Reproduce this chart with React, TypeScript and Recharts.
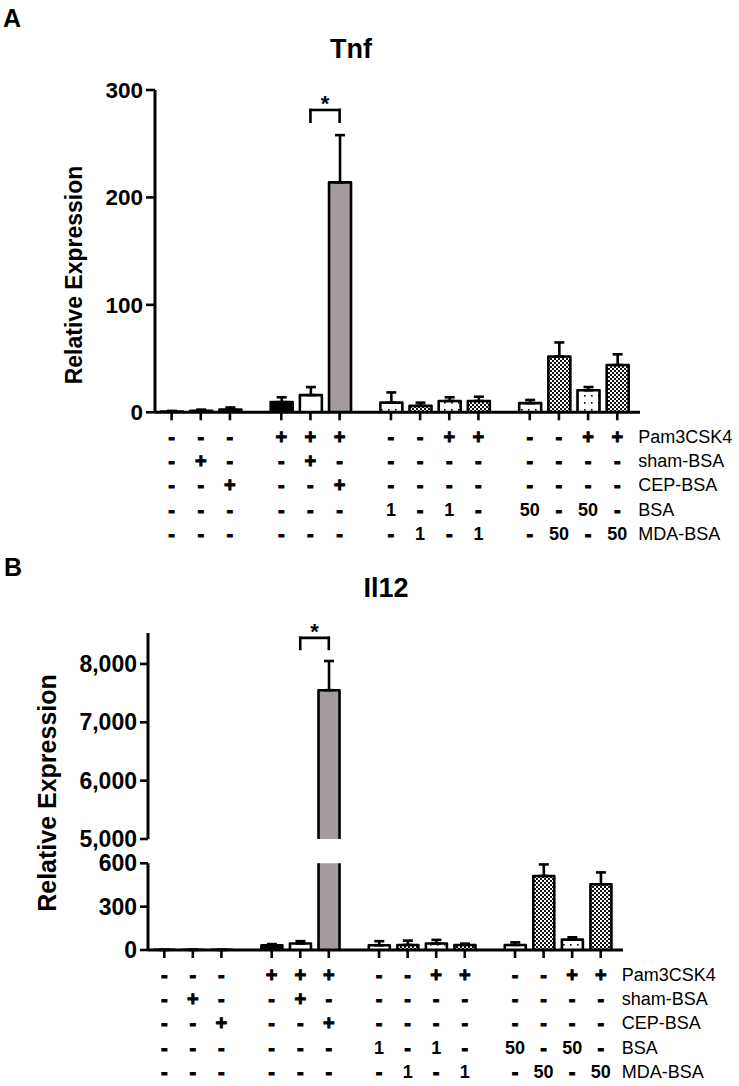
import React from "react";
import { BarChart, Bar, XAxis, YAxis, ErrorBar, ReferenceLine } from "recharts";

// ─── Data ─────────────────────────────────────────────────────────────────────

// group of each bar along the x axis (0: controls, 1: Pam3CSK4, 2: 1 µg, 3: 50 µg)
const GROUP = [0, 0, 0, 1, 1, 1, 2, 2, 2, 2, 3, 3, 3, 3];

const PAM3CSK4 = ["-", "-", "-", "+", "+", "+", "-", "-", "+", "+", "-", "-", "+", "+"];
const SHAM_BSA = ["-", "+", "-", "-", "+", "-", "-", "-", "-", "-", "-", "-", "-", "-"];
const CEP_BSA = ["-", "-", "+", "-", "-", "+", "-", "-", "-", "-", "-", "-", "-", "-"];
const BSA = ["-", "-", "-", "-", "-", "-", "1", "-", "1", "-", "50", "-", "50", "-"];
const MDA_BSA = ["-", "-", "-", "-", "-", "-", "-", "1", "-", "1", "-", "50", "-", "50"];
const ROW_LABELS = ["Pam3CSK4", "sham-BSA", "CEP-BSA", "BSA", "MDA-BSA"];

const TNF_MEAN = [0.8, 1.5, 2.5, 9.5, 16, 214, 9, 6, 10.5, 10.5, 8.5, 52, 20.5, 44];
const TNF_SEM = [0.5, 1, 2, 4.5, 7.5, 44, 9.5, 3, 3.5, 4, 3, 13, 3, 10];

const IL12_MEAN = [1, 1, 1, 32, 45, 7550, 33, 35, 45, 35, 35, 512, 72, 455];
const IL12_SEM = [0, 0, 0, 9, 16, 500, 28, 30, 25, 9, 18, 80, 16, 82];

const TNF_TICKS = [0, 100, 200, 300];
const IL12_TOP_TICKS = [5000, 6000, 7000, 8000];
const IL12_LOW_TICKS = [0, 300, 600];
const IL12_BREAK = 5000;

// ─── Layout helpers ───────────────────────────────────────────────────────────

const FONT = "'Liberation Sans', Arial, Helvetica, sans-serif";
const GROUP_GAP = 0.76;
const POS = GROUP.map((g, i) => i + g * GROUP_GAP);
const X_DOMAIN: [number, number] = [-0.57, 16.06];

const FILLS = [
  "#000", "#000", "#000", "#000", "#fff", "#a39b9c",
  "url(#dots)", "url(#checker)", "url(#dots)", "url(#checker)",
  "url(#dots)", "url(#checker)", "url(#dots)", "url(#checker)",
];

const TABLE = [PAM3CSK4, SHAM_BSA, CEP_BSA, BSA, MDA_BSA];
const ROW_DY = [16.5, 40.7, 65, 89.5, 113.5];

const tnfData = TNF_MEAN.map((m, i) => ({ idx: i, pos: POS[i], value: m, err: [0, TNF_SEM[i]] }));
const il12Data = IL12_MEAN.map((m, i) => ({ idx: i, pos: POS[i], value: m, err: [0, IL12_SEM[i]] }));
const il12TopData = IL12_MEAN.map((m, i) => ({
  idx: i,
  pos: POS[i],
  value: m > IL12_BREAK ? m : null,
  err: m > IL12_BREAK ? [0, IL12_SEM[i]] : undefined,
}));

const AX = { stroke: "#000", strokeWidth: 3 };
const TL = { stroke: "#000", strokeWidth: 2.6 };

// ─── Pieces ───────────────────────────────────────────────────────────────────

function BarShape(props: any) {
  const { x, y, width, height, payload } = props;
  if (!payload || payload.value == null || !isFinite(height) || !isFinite(y)) return null;
  const top = Math.min(y, y + height);
  const bottom = top + Math.abs(height);
  return (
    <g>
      <rect x={x} y={top} width={width} height={bottom - top} fill={FILLS[payload.idx]} />
      <path
        d={`M${x},${bottom}V${top}H${x + width}V${bottom}`}
        fill="none"
        stroke="#000"
        strokeWidth={2.6}
        strokeLinejoin="round"
      />
    </g>
  );
}

function TableTick(props: any) {
  const { x, y, payload } = props;
  let i = props.index;
  if (i == null || POS[i] !== payload?.value) i = POS.indexOf(payload?.value);
  if (i < 0) return null;
  return (
    <g>
      {TABLE.map((row, r) => {
        const s = row[i];
        const sign = s === "+" || s === "-";
        return (
          <text
            key={r}
            x={x}
            y={y + ROW_DY[r]}
            textAnchor="middle"
            dominantBaseline="central"
            fontFamily={FONT}
            fontWeight={700}
            fontSize={sign ? 20 : 18}
            fill="#000"
            stroke={sign ? "#000" : "none"}
            strokeWidth={sign ? 0.9 : 0}
          >
            {s}
          </text>
        );
      })}
      {i === POS.length - 1 &&
        ROW_LABELS.map((lab, r) => (
          <text
            key={lab}
            x={x + 21}
            y={y + ROW_DY[r]}
            dominantBaseline="central"
            fontFamily={FONT}
            fontSize={18}
            fill="#000"
          >
            {lab}
          </text>
        ))}
    </g>
  );
}

const starLabel = (p: any) => {
  const vb = p.viewBox || {};
  return (
    <text
      x={(vb.x || 0) + (vb.width || 0) / 2}
      y={(vb.y || 0) + 1}
      textAnchor="middle"
      fontFamily={FONT}
      fontWeight={700}
      fontSize={22}
      fill="#000"
    >
      *
    </text>
  );
};

const yTick = (size: number) => ({ fill: "#000", fontSize: size, fontWeight: 700, fontFamily: FONT });

// ─── Main ─────────────────────────────────────────────────────────────────────

export default function App() {
  const brA = { a: POS[4], b: POS[5], top: 281.4, bottom: 270.5 };
  const brB = { a: POS[4], b: POS[5], top: 8446, bottom: 8257 };
  const bracketProps = { stroke: "#000", strokeWidth: 2.6, strokeLinecap: "square" as const };

  return (
    <div style={{ position: "absolute", left: 0, top: 0, width: 739, height: 1086, background: "#fff" }}>
      <svg width={739} height={1086} style={{ position: "absolute", left: 0, top: 0 }}>
        <defs>
          <pattern id="checker" width={4} height={4} patternUnits="userSpaceOnUse">
            <rect width={4} height={4} fill="#fff" />
            <rect width={2} height={2} fill="#111" />
            <rect x={2} y={2} width={2} height={2} fill="#111" />
          </pattern>
          <pattern id="dots" width={7} height={7} patternUnits="userSpaceOnUse">
            <rect width={7} height={7} fill="#fff" />
            <rect x={3} y={3} width={1.6} height={1.6} fill="#000" />
          </pattern>
        </defs>
        <g fontFamily={FONT} fontWeight={700} fill="#000">
          <text x={3} y={27} fontSize={25}>A</text>
          <text x={4} y={576} fontSize={25}>B</text>
          <text x={351} y={58} fontSize={27} textAnchor="middle">Tnf</text>
          <text x={386} y={597} fontSize={27} textAnchor="middle">Il12</text>
          <text transform="translate(74,275) rotate(-90)" fontSize={23} textAnchor="middle" dominantBaseline="central">
            Relative Expression
          </text>
          <text transform="translate(47,793) rotate(-90)" fontSize={25} textAnchor="middle" dominantBaseline="central">
            Relative Expression
          </text>
        </g>
      </svg>

      {/* Panel A: Tnf */}
      <div style={{ position: "absolute", left: 0, top: 0 }}>
        <BarChart width={739} height={560} data={tnfData} margin={{ top: 90, right: 99, bottom: 117.7, left: 85 }}>
          <XAxis
            type="number"
            dataKey="pos"
            domain={X_DOMAIN}
            ticks={POS}
            interval={0}
            height={30}
            tickSize={8}
            tickMargin={0}
            axisLine={AX}
            tickLine={TL}
            tick={(p: any) => <TableTick {...p} />}
          />
          <YAxis
            type="number"
            domain={[0, 300]}
            ticks={TNF_TICKS}
            interval={0}
            width={70}
            tickSize={9}
            tickMargin={3}
            axisLine={AX}
            tickLine={TL}
            tick={yTick(22.5)}
          />
          <Bar dataKey="value" barSize={22} shape={(p: any) => <BarShape {...p} />} isAnimationActive={false}>
            <ErrorBar dataKey="err" width={5} strokeWidth={2.6} stroke="#000" direction="y" isAnimationActive={false} />
          </Bar>
          <ReferenceLine
            segment={[{ x: brA.a, y: brA.top }, { x: brA.b, y: brA.top }]}
            {...bracketProps}
            label={starLabel}
          />
          <ReferenceLine segment={[{ x: brA.a, y: brA.bottom }, { x: brA.a, y: brA.top }]} {...bracketProps} />
          <ReferenceLine segment={[{ x: brA.b, y: brA.bottom }, { x: brA.b, y: brA.top }]} {...bracketProps} />
        </BarChart>
      </div>

      {/* Panel B: Il12, upper segment of the broken axis */}
      <div style={{ position: "absolute", left: 0, top: 600 }}>
        <BarChart width={739} height={260} data={il12TopData} margin={{ top: 33, right: 116, bottom: 21, left: 78 }}>
          <XAxis type="number" dataKey="pos" domain={X_DOMAIN} ticks={POS} hide />
          <YAxis
            type="number"
            domain={[IL12_BREAK, 8530]}
            allowDataOverflow
            ticks={IL12_TOP_TICKS}
            interval={0}
            width={70}
            tickSize={8}
            tickMargin={3}
            axisLine={AX}
            tickLine={TL}
            tick={yTick(23)}
            tickFormatter={(v: number) => v.toLocaleString("en-US")}
          />
          <Bar dataKey="value" barSize={21} shape={(p: any) => <BarShape {...p} />} isAnimationActive={false}>
            <ErrorBar dataKey="err" width={5} strokeWidth={2.6} stroke="#000" direction="y" isAnimationActive={false} />
          </Bar>
          <ReferenceLine
            segment={[{ x: brB.a, y: brB.top }, { x: brB.b, y: brB.top }]}
            {...bracketProps}
            label={starLabel}
          />
          <ReferenceLine segment={[{ x: brB.a, y: brB.bottom }, { x: brB.a, y: brB.top }]} {...bracketProps} />
          <ReferenceLine segment={[{ x: brB.b, y: brB.bottom }, { x: brB.b, y: brB.top }]} {...bracketProps} />
        </BarChart>
      </div>

      {/* Panel B: Il12, lower segment */}
      <div style={{ position: "absolute", left: 0, top: 850 }}>
        <BarChart width={739} height={236} data={il12Data} margin={{ top: 13.3, right: 116, bottom: 106, left: 78 }}>
          <XAxis
            type="number"
            dataKey="pos"
            domain={X_DOMAIN}
            ticks={POS}
            interval={0}
            height={30}
            tickSize={8}
            tickMargin={0}
            axisLine={AX}
            tickLine={TL}
            tick={(p: any) => <TableTick {...p} />}
          />
          <YAxis
            type="number"
            domain={[0, 600]}
            allowDataOverflow
            ticks={IL12_LOW_TICKS}
            interval={0}
            width={70}
            tickSize={8}
            tickMargin={3}
            axisLine={AX}
            tickLine={TL}
            tick={yTick(23)}
          />
          <Bar dataKey="value" barSize={21} shape={(p: any) => <BarShape {...p} />} isAnimationActive={false}>
            <ErrorBar dataKey="err" width={5} strokeWidth={2.6} stroke="#000" direction="y" isAnimationActive={false} />
          </Bar>
        </BarChart>
      </div>
    </div>
  );
}
